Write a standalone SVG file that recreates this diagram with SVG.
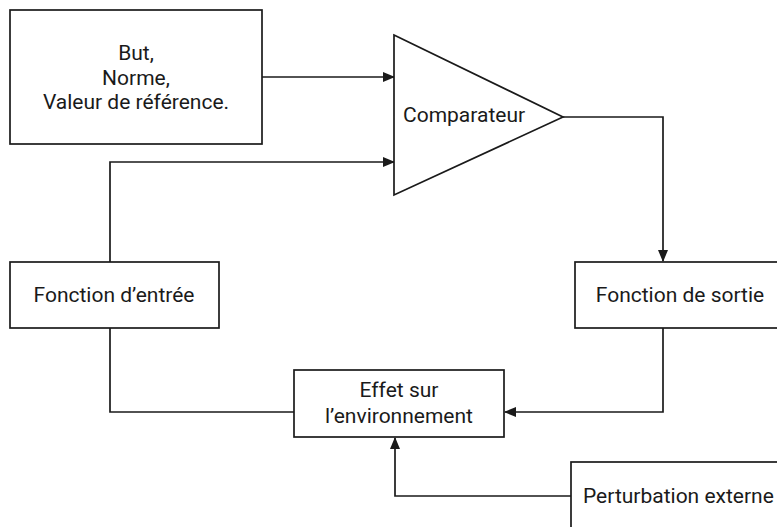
<svg xmlns="http://www.w3.org/2000/svg" width="777" height="527" viewBox="0 0 777 527">
<style>
.box{fill:#fff;stroke:#1a1a1a;stroke-width:1.7}
.lbl{font-family:Roboto,"Liberation Sans",sans-serif;font-size:21px;fill:#1a1a1a}
.c{text-anchor:middle}
.conn{fill:none;stroke:#1a1a1a;stroke-width:1.7}
</style>
<defs>
<marker id="ah" markerWidth="12" markerHeight="10" refX="11" refY="5" orient="auto" markerUnits="userSpaceOnUse">
<path d="M0,0 L12,5 L0,10 Z" fill="#1a1a1a"/>
</marker>
</defs>
<rect width="777" height="527" fill="#fff"/>
<g id="connectors">
<path class="conn" d="M262,77 H394" marker-end="url(#ah)"/>
<path class="conn" d="M110,262 V162 H394" marker-end="url(#ah)"/>
<path class="conn" d="M563,117 H663 V261" marker-end="url(#ah)"/>
<path class="conn" d="M663,328 V412 H505" marker-end="url(#ah)"/>
<path class="conn" d="M110,328 V412 H294"/>
<path class="conn" d="M571,496 H395 V438" marker-end="url(#ah)"/>
</g>
<g id="but">
<rect class="box" x="10" y="10" width="252" height="134"/>
<text class="lbl c" x="136" y="60">But,</text>
<text class="lbl c" x="136" y="85">Norme,</text>
<text class="lbl c" x="136" y="109">Valeur de référence.</text>
</g>
<g id="comparateur">
<polygon class="box" points="394,35 563,117 394,195"/>
<text class="lbl" x="403" y="122">Comparateur</text>
</g>
<g id="entree">
<rect class="box" x="10" y="262" width="209" height="66"/>
<text class="lbl c" x="114" y="302">Fonction d’entrée</text>
</g>
<g id="sortie">
<rect class="box" x="575" y="262" width="210" height="66"/>
<text class="lbl c" x="680" y="302">Fonction de sortie</text>
</g>
<g id="effet">
<rect class="box" x="294" y="370" width="210" height="67"/>
<text class="lbl c" x="399" y="397">Effet sur</text>
<text class="lbl c" x="399" y="423">l’environnement</text>
</g>
<g id="perturbation">
<rect class="box" x="571" y="462" width="220" height="80"/>
<text class="lbl" x="583" y="503">Perturbation externe</text>
</g>
</svg>
